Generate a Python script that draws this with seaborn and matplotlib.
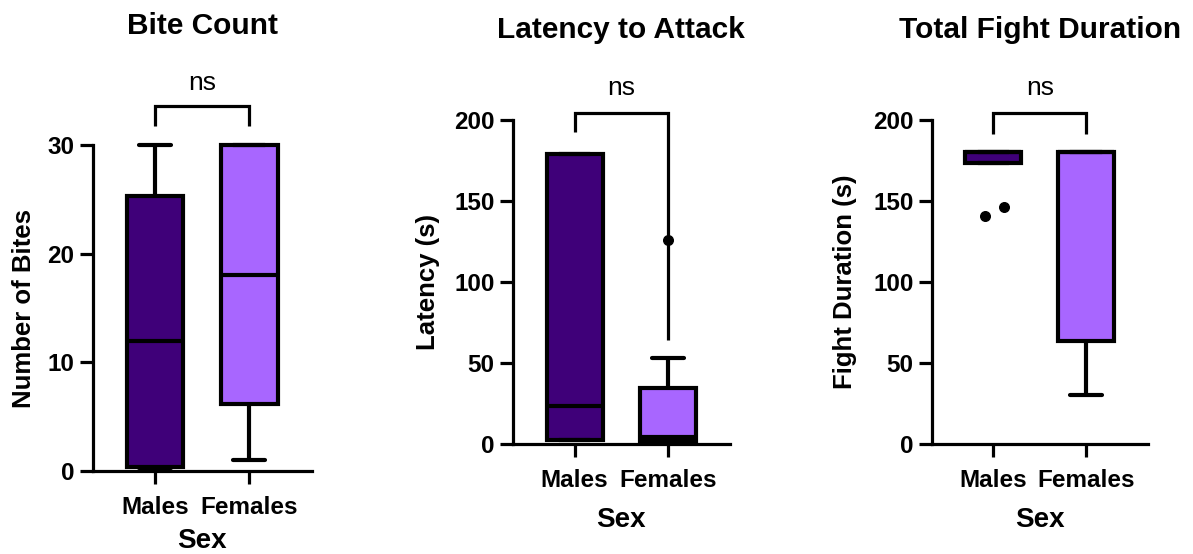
import numpy as np
import pandas as pd
import matplotlib
matplotlib.use("Agg")
import matplotlib.pyplot as plt
import seaborn as sns

# ---------------- data (five-number summaries) ----------------
sexes = ["Males", "Females"]
# order: lower whisker, Q1, median, Q3, upper whisker
bite_males = [0.0, 0.4, 12.0, 25.3, 30.0]
bite_females = [1.0, 6.2, 18.0, 30.0, 30.0]
lat_males = [2.5, 2.5, 23.5, 179.0, 179.0]
lat_females = [1.7, 1.7, 4.5, 34.5, 53.0]
lat_female_outliers = [126.0]
dur_males = [173.5, 173.5, 180.0, 180.0, 180.0]
dur_male_outliers = [141.0, 146.5]
dur_females = [30.5, 63.8, 180.0, 180.0, 180.0]

titles = ["Bite Count", "Latency to Attack", "Total Fight Duration"]
ylabels = ["Number of Bites", "Latency (s)", "Fight Duration (s)"]
xlabel = "Sex"
sig_label = "ns"
yticks = [[0, 10, 20, 30], [0, 50, 100, 150, 200], [0, 50, 100, 150, 200]]

# ---------------- style ----------------
sns.set_theme(style="ticks")
plt.rcParams["font.family"] = ["Liberation Sans", "DejaVu Sans"]
plt.rcParams["font.weight"] = "bold"
plt.rcParams["text.color"] = "black"
plt.rcParams["axes.labelcolor"] = "black"
plt.rcParams["xtick.color"] = "black"
plt.rcParams["ytick.color"] = "black"

palette = {"Males": "#3F0079", "Females": "#A866FF"}
W, H = 1193, 554
fig = plt.figure(figsize=(W / 100, H / 100), dpi=100)

def fy(px):
    return (H - px) / H

# axes geometry in pixels: (spine x, right end x, y of zero, y of top of ylim)
panels = [
    dict(x0=93, x1=312, ybot=471, ytop=79.8, ylim=36, ymax=30,
         title_y=34, ns_y=90, sex_y=548, ylab_x=24,
         bracket=(31.75, 33.6, 31.75)),
    dict(x0=513, x1=730, ybot=444, ytop=87.6, ylim=220, ymax=200,
         title_y=38, ns_y=95, sex_y=527, ylab_x=428,
         bracket=(192.3, 204.3, 64.2)),
    dict(x0=932, x1=1148, ybot=444, ytop=87.6, ylim=220, ymax=200,
         title_y=38, ns_y=95, sex_y=527, ylab_x=845,
         bracket=(191.6, 204.3, 191.6)),
]
summaries = [(bite_males, bite_females), (lat_males, lat_females), (dur_males, dur_females)]
outliers = [([], []), ([], lat_female_outliers), (dur_male_outliers, [])]
outlier_jitter = [([], []), ([], [0.0]), ([-0.085, 0.12], [])]

LW = 3.0
for i, p in enumerate(panels):
    ax = fig.add_axes([p["x0"] / W, fy(p["ybot"]), (p["x1"] - p["x0"]) / W,
                       (p["ybot"] - p["ytop"]) / H])
    m, f = summaries[i]
    df = pd.DataFrame({"Sex": ["Males"] * len(m) + ["Females"] * len(f),
                       "value": list(m) + list(f)})
    sns.boxplot(data=df, x="Sex", y="value", hue="Sex", order=sexes,
                hue_order=sexes, palette=palette, whis=(0, 100), width=0.6,
                linewidth=LW, linecolor="black", showfliers=False,
                legend=False, saturation=1, ax=ax,
                capwidths=0.34,
                medianprops=dict(color="black", linewidth=LW),
                whiskerprops=dict(color="black", linewidth=LW),
                capprops=dict(color="black", linewidth=LW))
    # outliers
    for j, sex in enumerate(sexes):
        vals = outliers[i][j]
        if vals:
            xs = [j + d for d in outlier_jitter[i][j]]
            ax.scatter(xs, vals, s=48, color="black", zorder=5, clip_on=False)

    ax.set_xlim(-0.66, 1.665)
    ax.set_ylim(0, p["ylim"])
    ax.set_yticks(yticks[i])
    ax.set_xticks([0, 1])
    ax.set_xticklabels(sexes)
    sns.despine(ax=ax)
    ax.spines["left"].set_bounds(0, p["ymax"])
    for s in ("left", "bottom"):
        ax.spines[s].set_linewidth(2.3)
        ax.spines[s].set_color("black")
    ax.tick_params(axis="y", length=9.3, width=2.3, pad=4, labelsize=17.5,
                   colors="black")
    ax.tick_params(axis="x", length=9, width=2.3, pad=9, labelsize=17.5,
                   colors="black")
    for lab in ax.get_xticklabels() + ax.get_yticklabels():
        lab.set_fontweight("bold")
    ax.set_xlabel("")
    ax.set_ylabel("")

    # significance bracket
    bl, bt, br = p["bracket"]
    ax.plot([0, 0, 1, 1], [bl, bt, bt, br], color="black", lw=2.3,
            clip_on=False, solid_capstyle="butt", solid_joinstyle="miter")
    ax.annotate(sig_label, xy=(0.5, fy(p["ns_y"])), xycoords=("data", "figure fraction"),
                ha="center", va="baseline", fontsize=19, fontweight="normal",
                color="black")
    # title
    ax.annotate(titles[i], xy=(0.5, fy(p["title_y"])), xycoords=("data", "figure fraction"),
                ha="center", va="baseline", fontsize=21.5, fontweight="bold",
                color="black")
    # x label
    ax.annotate(xlabel, xy=(0.5, fy(p["sex_y"])), xycoords=("data", "figure fraction"),
                ha="center", va="baseline", fontsize=20, fontweight="bold",
                color="black")
    # y label
    fig.text(p["ylab_x"] / W, fy((p["ybot"] + p["ybot"] - p["ymax"] / p["ylim"] * (p["ybot"] - p["ytop"])) / 2),
             ylabels[i], rotation=90, ha="center", va="center",
             fontsize=18.5, fontweight="bold", color="black")

fig.savefig("out.png", dpi=100, facecolor="white")
